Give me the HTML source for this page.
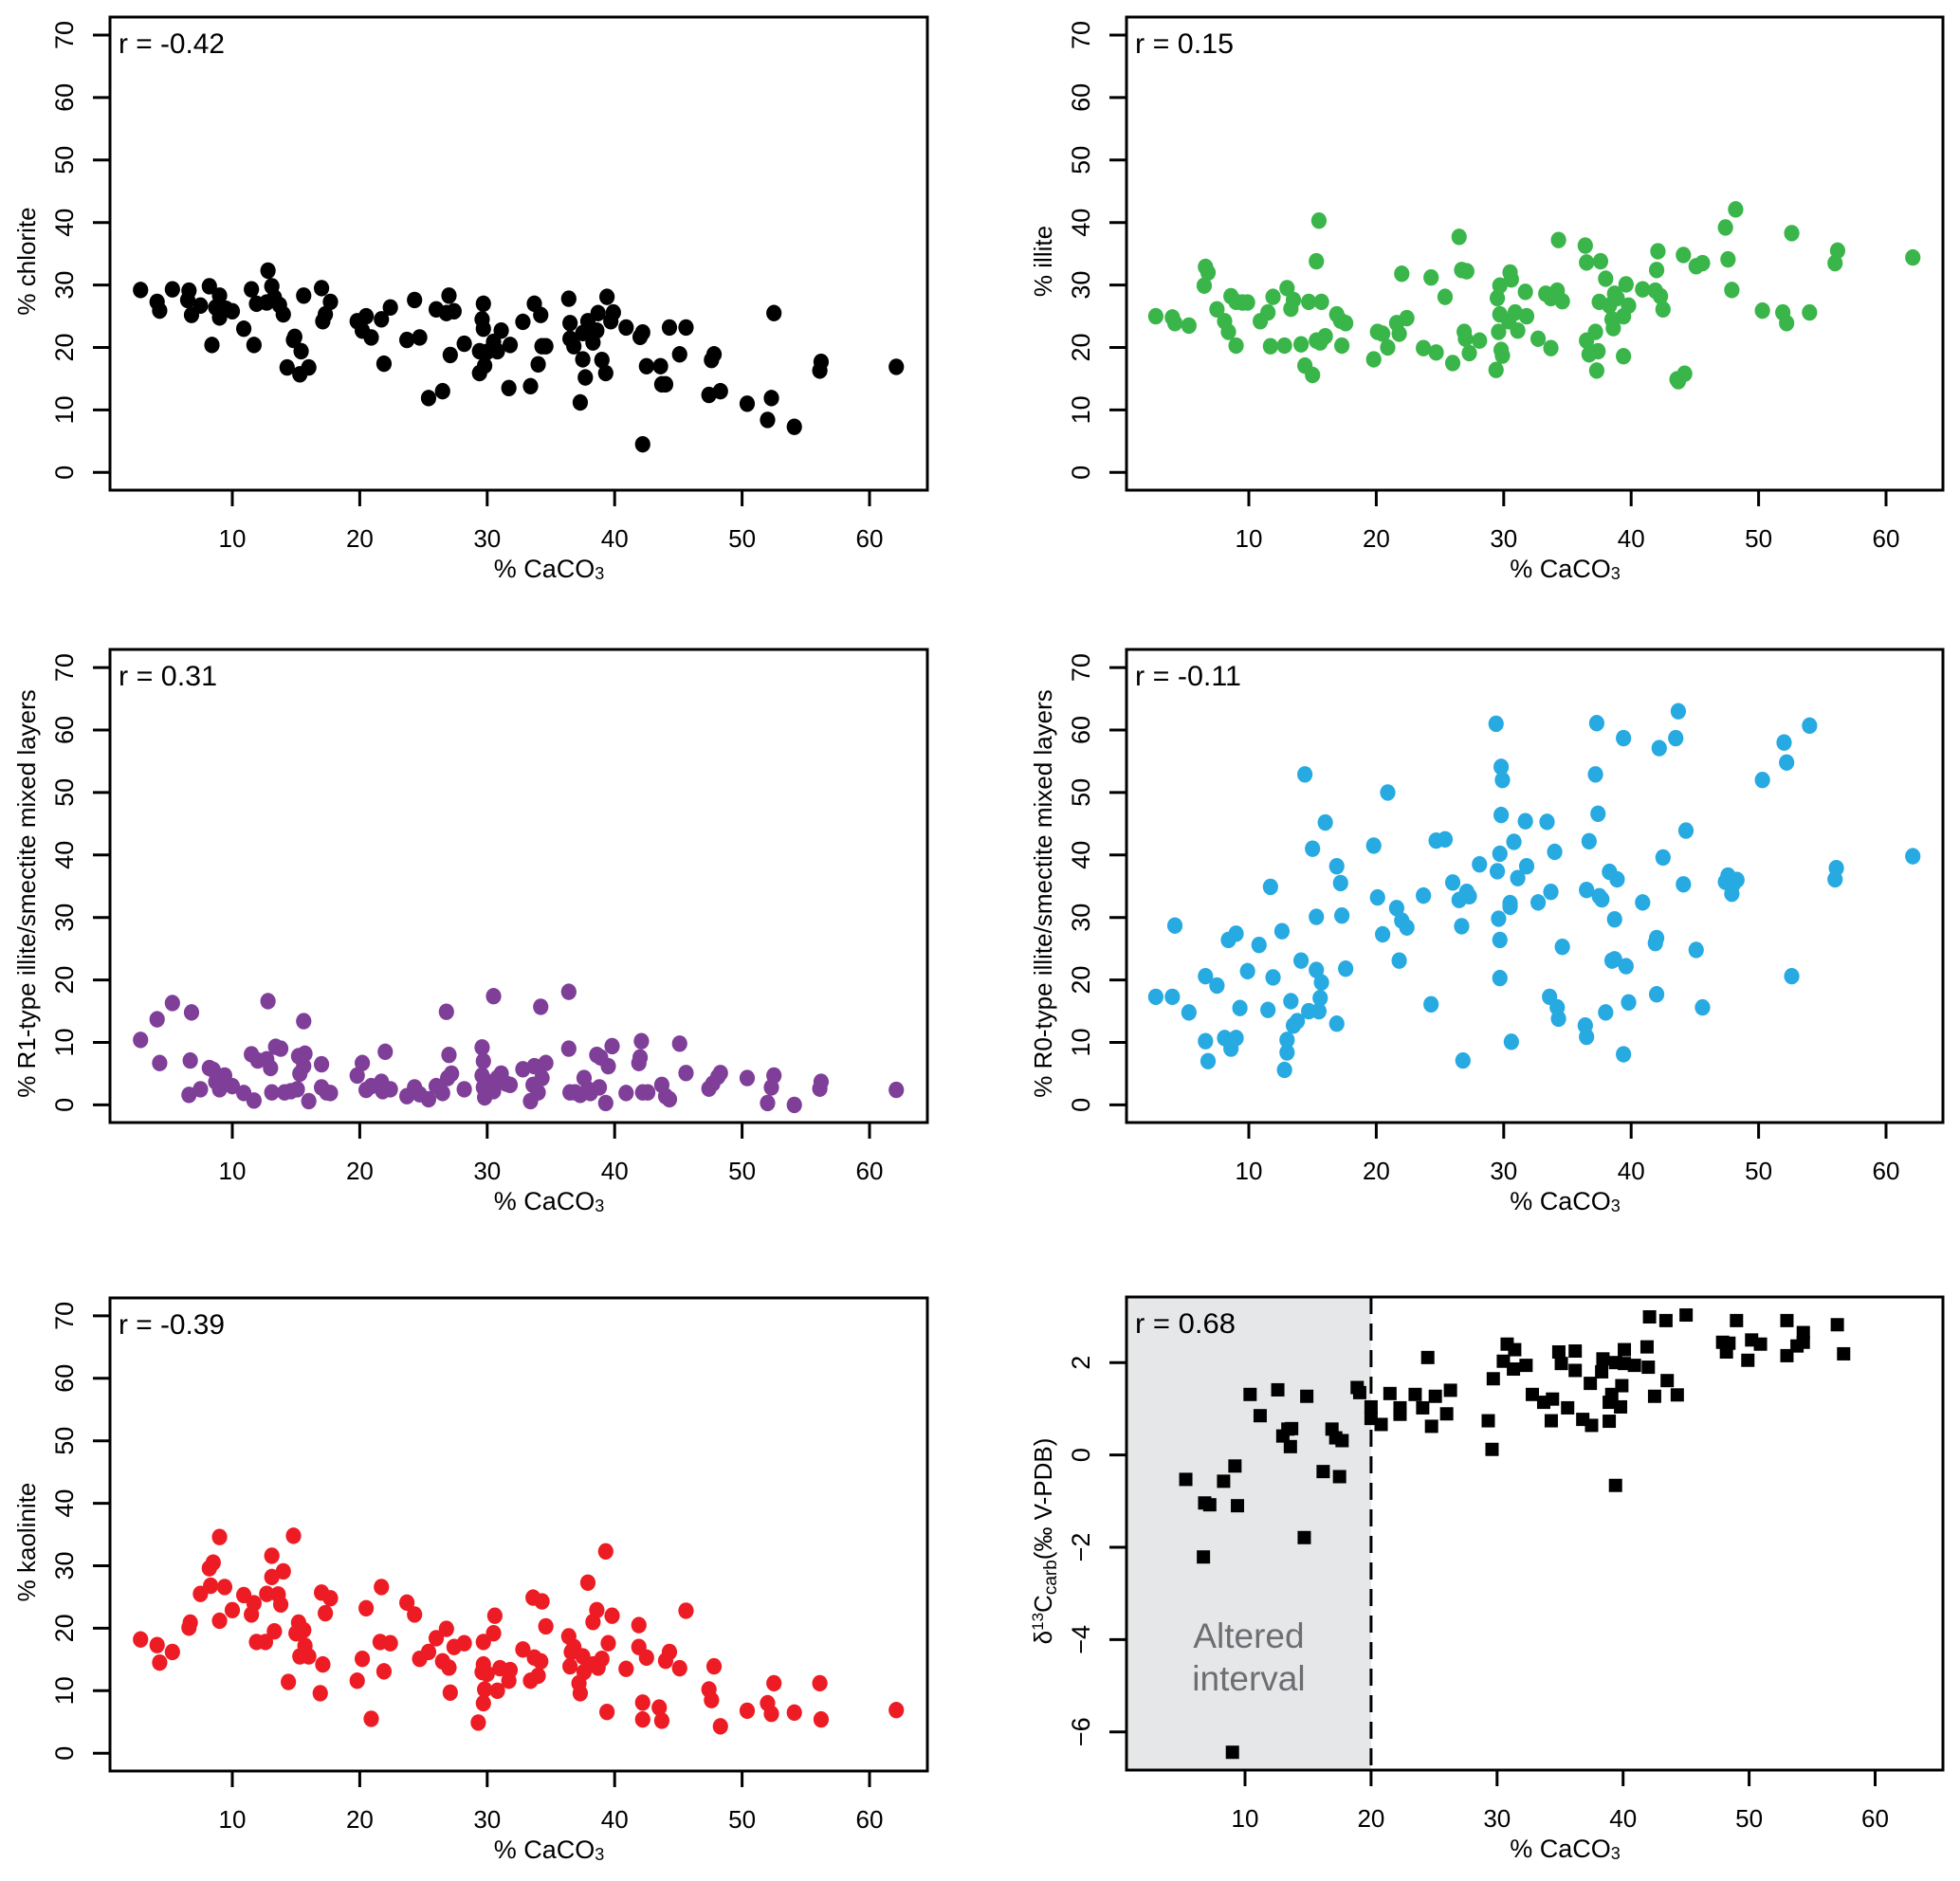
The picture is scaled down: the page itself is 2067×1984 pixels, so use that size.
<!DOCTYPE html>
<html><head><meta charset="utf-8"><style>
html,body{margin:0;padding:0;background:#fff;}
svg text{font-family:"Liberation Sans",sans-serif;}
</style></head><body>
<svg id="chart" xmlns="http://www.w3.org/2000/svg" width="2067" height="1979" viewBox="0 0 2067 1979"></svg>
<script>
// ---- data (x = % CaCO3) ----
const chlX=[2.8,4.1,4.3,5.3,6.6,6.5,6.8,7.5,8.2,8.4,8.7,9,9,9.5,10,10.9,11.5,11.7,11.9,12.8,13.1,12.7,13.3,13.7,14,14.3,14.8,14.9,15.3,15.4,15.6,16,17,17.1,17.3,17.7,19.8,20.2,20.5,20.9,21.7,21.9,22.4,23.7,24.3,24.7,25.4,26,26.5,26.8,27,27.1,27.4,28.2,29.4,29.7,29.6,29.7,29.4,29.8,30,30.5,30.8,31.1,31.8,31.7,32.8,33.4,33.7,34,34.2,34.3,34.6,36.4,36.5,36.5,36.8,37.3,37.5,37.5,37.7,37.9,38.3,38.6,38.7,39,39.3,39.4,39.7,39.9,40.9,42,42.2,42.2,42.5,43.6,43.7,44,44.3,45.1,45.6,47.4,47.6,47.8,48.3,50.4,52,52.3,52.5,54.1,56.1,56.2,62.1];
const chlY=[29.2,27.3,25.9,29.3,29.1,27.6,25.2,26.7,29.8,20.4,26.4,28.3,24.8,26.2,25.8,23,29.3,20.4,27,32.3,29.8,27.2,28,26.8,25.3,16.8,21.2,21.7,15.7,19.4,28.3,16.8,29.5,24.2,25.3,27.3,24.2,22.7,25,21.6,24.5,17.4,26.4,21.2,27.6,21.6,11.9,26.1,13,25.5,28.3,18.8,25.8,20.6,19.4,27,24.5,23,15.9,17.1,19.3,20.9,19.4,22.7,20.4,13.5,24.1,13.8,27,17.3,25.2,20.2,20.2,27.8,23.9,21.4,20.2,11.2,22.3,18.1,15.2,24.2,20.8,22.7,25.5,18,15.9,28.1,24.2,25.6,23.2,21.7,22.4,4.5,17,17,14.1,14.1,23.2,18.9,23.2,12.4,18,18.9,13,11,8.4,11.9,25.5,7.3,16.3,17.7,16.9];
const illX=[2.7,4.0,4.2,5.3,6.6,6.8,6.5,7.5,8.1,8.4,8.6,9,9,9.5,9.9,10.9,11.5,11.7,11.9,12.8,13,13.3,13.5,14.1,14.4,14.7,15,15.3,15.5,15.3,15.6,15.7,16,16.9,17.2,17.3,17.6,19.8,20.1,20.5,20.9,21.6,21.8,22,22.4,23.7,24.3,24.7,25.4,26,26.5,26.7,26.9,27,27.1,27.3,28.1,29.4,29.5,29.7,29.6,29.7,29.8,29.9,30.5,30.6,30.4,30.9,31.1,31.7,31.8,32.7,33.3,33.7,33.7,34.2,34.3,34.6,36.4,36.5,36.5,36.7,37.2,37.3,37.4,37.5,37.6,38,38.3,38.5,38.6,38.7,38.9,39.4,39.4,39.6,39.8,40.9,41.9,42,42.1,42.3,42.5,43.6,43.7,44.2,44.1,45.1,45.6,47.4,47.6,47.9,48.2,50.3,51.9,52.2,52.6,54,56,56.2,62.1];
const illY=[25,24.8,23.9,23.5,32.9,32,29.9,26.1,24.2,22.5,28.2,27.3,20.3,27.2,27.2,24.2,25.6,20.2,28.1,20.3,29.5,26.2,27.6,20.5,17.1,27.3,15.6,33.8,40.3,21.1,20.8,27.3,21.8,25.3,24.3,20.3,23.9,18.1,22.5,22.2,20,23.9,22.2,31.8,24.7,19.9,31.2,19.2,28.1,17.5,37.7,32.4,22.5,21.4,32.2,19.1,21.1,16.4,27.9,29.9,22.5,25.3,19.6,18.7,32,30.9,24.2,25.6,22.7,28.9,25,21.4,28.6,19.9,27.9,29.1,37.2,27.4,36.3,33.6,21.1,18.9,22.5,16.3,19.4,27.3,33.8,31,26.7,24.5,23.1,28.6,27.9,18.6,25,30.1,26.7,29.3,29.1,32.4,35.4,28.2,26.1,14.9,14.6,15.8,34.8,33,33.5,39.2,34.1,29.2,42.1,25.9,25.6,23.9,38.3,25.6,33.5,35.5,34.4];
const r1X=[2.8,4.1,4.3,5.3,6.6,6.8,6.7,7.5,8.2,8.5,8.7,9,9.4,9.5,10,10.9,11.5,11.7,12,12.8,13,12.7,13.1,13.4,13.8,14.1,14.6,15.1,15.2,15.3,15.6,15.6,15.7,16,17,17,17.4,17.7,19.8,20.2,20.5,20.9,21.7,21.8,22,22.4,23.7,24.3,24.7,25.4,26,26.5,26.8,26.9,27,27.2,28.2,29.6,29.7,29.6,29.7,29.8,30,30.3,30.5,30.5,30.8,31.1,31.5,31.8,32.8,33.4,33.6,33.7,34,34.2,34.3,34.6,36.4,36.4,36.5,36.9,37.3,37.6,37.9,38.1,38.6,38.8,38.9,39.3,39.5,39.8,40.9,41.9,42,42.1,42.2,42.6,43.7,44,44.3,45.1,45.6,47.4,47.7,48.1,48.3,50.4,52,52.3,52.5,54.1,56.1,56.2,62.1];
const r1Y=[10.4,13.7,6.7,16.3,1.6,14.8,7.1,2.5,5.9,5.6,3.7,2.5,4.7,3.4,3,1.9,8.1,0.7,7.1,16.6,5.9,7.3,2,9.3,9,2,2.2,2.5,7.8,5,13.4,6.2,8.2,0.6,6.5,2.8,2,1.9,4.7,6.7,2.4,3,3.7,2.2,8.5,2.5,1.4,2.8,1.7,0.9,3,1.9,14.9,4.3,8,5,2.5,9.2,7,4.7,2.8,1.2,3.7,2.5,17.4,2.2,4.3,5,3.4,3.2,5.7,0.6,3.2,6.2,2,15.7,4.3,6.7,18.1,9,2,2,1.6,4.3,2.5,1.9,8,2.8,7.6,0.3,6.2,9.4,1.9,6.7,7.6,10.2,2,2,3.2,1.4,0.9,9.8,5.1,2.6,3.4,4.5,5.1,4.3,0.3,2.8,4.7,0,2.6,3.7,2.4];
const r0X=[2.7,4,4.2,5.3,6.6,6.6,6.8,7.5,8.1,8.4,8.6,9,9,9.3,9.9,10.8,11.5,11.7,11.9,12.6,12.8,13,13,13.3,13.5,13.8,14.1,14.4,14.7,15,15.3,15.3,15.5,15.6,15.7,16,16.9,16.9,17.2,17.3,17.6,19.8,20.1,20.5,20.9,21.6,21.8,22,22.4,23.7,24.3,24.7,25.4,26,26.5,26.7,26.8,27.1,27.3,28.1,29.4,29.5,29.6,29.7,29.7,29.7,29.8,29.8,29.9,30.5,30.5,30.6,30.8,31.1,31.7,31.8,32.7,33.4,33.6,33.7,34,34.2,34.3,34.6,36.4,36.5,36.5,36.7,37.2,37.3,37.4,37.5,37.7,38,38.3,38.5,38.7,38.7,38.9,39.4,39.4,39.6,39.8,40.9,41.9,42,42,42.2,42.5,43.5,43.7,44.1,44.3,45.1,45.6,47.4,47.6,47.9,48,48.3,50.3,52,52.2,52.6,54,56,56.1,62.1];
const r0Y=[17.3,17.3,28.7,14.8,20.6,10.2,7,19.1,10.7,26.4,9,27.4,10.7,15.5,21.4,25.6,15.2,34.9,20.4,27.8,5.6,10.4,8.4,16.6,12.7,13.4,23.1,52.9,15,41,30.1,21.6,15,17.1,19.6,45.2,13,38.2,35.5,30.3,21.8,41.5,33.2,27.3,50,31.5,23.1,29.5,28.4,33.5,16.1,42.3,42.5,35.6,32.8,28.6,7.1,34.1,33.4,38.5,61,37.4,29.8,26.4,40.2,20.3,54.1,46.4,52,32.3,31.7,10.1,42.1,36.3,45.4,38.2,32.4,45.3,17.3,34.1,40.5,15.6,13.8,25.3,12.7,10.9,34.4,42.2,52.9,61.1,46.6,33.4,32.9,14.8,37.3,23.1,23.3,29.7,36.1,8.1,58.7,22.2,16.4,32.4,25.9,26.7,17.7,57.1,39.6,58.7,63,35.3,43.9,24.8,15.6,35.7,36.7,33.8,35.3,36,52,58,54.8,20.6,60.7,36.1,37.9,39.8];
const kaoX=[2.8,4.1,4.3,5.3,6.6,6.7,7.5,8.2,8.5,8.3,9,9,9.4,10,10.9,11.5,11.7,11.9,12.6,12.7,13.1,13.1,13.3,13.6,13.8,14,14.4,14.8,15,15.2,15.3,15.6,15.7,16,16.9,17,17.1,17.3,17.7,19.8,20.2,20.5,20.9,21.6,21.7,21.9,22.4,23.7,24.3,24.7,25.4,26,26.5,26.8,27,27.1,27.4,28.2,29.3,29.6,29.7,29.7,29.7,29.8,30,30.5,30.6,30.8,31,31.7,31.8,32.8,33.4,33.6,33.7,34,34.2,34.3,34.6,36.4,36.5,36.6,36.8,37.2,37.3,37.5,37.6,37.9,38.3,38.3,38.6,38.7,39,39.3,39.4,39.5,39.8,40.9,41.9,41.9,42.2,42.2,42.5,43.5,43.7,44,44.3,45.1,45.6,47.4,47.6,47.8,48.3,50.4,52,52.3,52.5,54.1,56.1,56.2,62.1];
const kaoY=[18.2,17.3,14.5,16.2,20.1,20.9,25.5,29.6,30.5,26.8,34.6,21.2,26.6,22.9,25.3,22.2,24,17.8,17.8,25.5,31.6,28.2,19.5,25.4,23.8,29.1,11.4,34.8,19.2,20.9,15.5,19.7,17.2,15.5,9.6,25.7,14.2,22.4,24.8,11.6,15.1,23.2,5.5,17.8,26.6,13.1,17.6,24.1,22.2,15.1,16.2,18.4,14.7,19.9,13.7,9.7,17,17.6,4.9,13,17.8,14.2,8,10.2,12.7,19.2,22,10,13.6,11.6,13.3,16.6,11.6,24.9,15.3,12.4,14.7,24.3,20.3,18.7,13.9,16.2,17,11.2,9.6,15.5,13,27.3,14.2,21,22.9,13.7,15.1,32.3,6.6,17.6,22,13.5,20.5,17,8.1,5.4,15.3,7.3,5.2,14.8,16.2,13.6,22.8,10.2,8.5,13.9,4.3,6.8,8,6.3,11.2,6.5,11.2,5.4,6.9];
const d13X=[5.3,6.8,7.2,6.7,8.3,9,9.2,9.4,10.4,11.2,12.6,13,13.4,13.6,13.7,14.7,14.9,16.2,16.9,17.2,17.5,17.7,18.9,19.1,20,20,20.8,21.5,22.3,22.3,23.5,24.1,24.5,24.8,25.1,26,26.3,29.3,29.6,29.7,30.5,30.8,31.4,31.3,32.3,32.8,33.7,34.4,34.3,34.9,35.1,35.6,36.2,36.2,36.8,37.5,37.4,38.3,38.4,38.9,38.9,39.1,39.4,39.4,39.8,39.9,40.1,40.1,40.9,41.9,42,42.1,42.5,43.4,43.5,44.3,45,47.9,48.2,48.4,49,49.9,50.2,50.9,53,53,53.8,54.3,54.3,57,57.5];
const d13Y=[-0.53,-1.04,-1.08,-2.21,-0.57,-6.44,-0.24,-1.1,1.31,0.85,1.41,0.41,0.56,0.18,0.57,-1.79,1.27,-0.36,0.56,0.37,-0.47,0.31,1.46,1.35,1.04,0.79,0.66,1.33,1.02,0.88,1.31,1.02,2.11,0.62,1.27,0.89,1.4,0.74,0.12,1.65,2.03,2.4,2.28,1.86,1.94,1.31,1.14,1.21,0.74,2.23,1.98,1.02,1.83,2.25,0.77,0.64,1.55,1.8,2.08,1.14,0.73,1.31,2,-0.66,1.04,1.5,2.28,1.98,1.94,2.34,1.9,2.99,1.27,2.91,1.61,1.3,3.03,2.44,2.23,2.42,2.91,2.05,2.49,2.4,2.91,2.15,2.36,2.65,2.44,2.82,2.19];
const xTicks=[10,20,30,40,50,60];
const pctTicks=[0,10,20,30,40,50,60,70];
const d13Ticks=[2,0,-2,-4,-6];

const NS='http://www.w3.org/2000/svg';
const svg=document.getElementById('chart');
function mk(tag,attrs,parent){const e=document.createElementNS(NS,tag);for(const k in attrs)e.setAttribute(k,attrs[k]);(parent||svg).appendChild(e);return e;}

function panel(o){
  const g=mk('g',{});
  
  
  const sx=v=>o.x10+(v-10)*o.kx;
  const sy=v=>o.y0-(v-o.yref)*o.ky;
  if(o.shade){
    const sh=mk('rect',{x:o.L,y:o.T,width:sx(20)-o.L,height:o.B-o.T,fill:'#e6e7e8'},g);
    
    
    const dl=mk('line',{x1:sx(20),x2:sx(20),y1:o.T,y2:o.B,stroke:'#000','stroke-width':3,'stroke-dasharray':'18,10'},g);
    
    
    const t1=mk('text',{x:(o.L+sx(20))/2,y:o.T+370,'font-size':37,fill:'#6d6e71','text-anchor':'middle'},g);t1.textContent='Altered';
    
    
    const t2=mk('text',{x:(o.L+sx(20))/2,y:o.T+415,'font-size':37,fill:'#6d6e71','text-anchor':'middle'},g);t2.textContent='interval';
    
    
  }
  for(let i=0;i<o.xs.length;i++){
    let m;
    if(o.square){m=mk('rect',{x:sx(o.xs[i])-7,y:sy(o.ys[i])-7,width:14,height:14,fill:o.color},g);}
    else{m=mk('ellipse',{cx:sx(o.xs[i]),cy:sy(o.ys[i]),rx:8.1,ry:8.7,fill:o.color},g);}
    
    
  }
  const box=mk('rect',{x:o.L,y:o.T,width:o.R-o.L,height:o.B-o.T,fill:'none',stroke:'#000','stroke-width':3},g);
  
  
  xTicks.forEach(v=>{
    const t=mk('line',{x1:sx(v),x2:sx(v),y1:o.B,y2:o.B+17,stroke:'#000','stroke-width':3},g);
    
    
    const l=mk('text',{x:sx(v),y:o.B+60,'font-size':26,'text-anchor':'middle'},g);l.textContent=v;
    
    
  });
  o.yt.forEach(v=>{
    const t=mk('line',{x1:o.L-18,x2:o.L,y1:sy(v),y2:sy(v),stroke:'#000','stroke-width':3},g);
    
    
    const l=mk('text',{x:0,y:0,'font-size':27,'text-anchor':'middle',transform:`translate(${o.L-39},${sy(v)}) rotate(-90)`},g);
    l.textContent=(v<0?'\u2212'+(-v):String(v));
    
    
  });
  const xt=mk('text',{x:(o.L+o.R)/2+32,y:o.B+92,'font-size':27,'text-anchor':'middle'},g);
  xt.innerHTML='% CaCO<tspan font-size="18" dy="2">3</tspan>';
  
  
  const yt=mk('text',{x:0,y:0,'font-size':26,'text-anchor':'middle',transform:`translate(${o.L-79},${(o.T+o.B)/2+8}) rotate(-90)`},g);
  yt.innerHTML=o.ylab;
  
  
  const rt=mk('text',{x:o.L+9,y:o.T+38,'font-size':30,textLength:o.rw,lengthAdjust:'spacingAndGlyphs'},g);
  rt.textContent=o.r;
  
  
}
const c1={L:116,R:978,x10:245,kx:13.44};
const c2={L:1188,R:2049,x10:1317,kx:13.44};
const rows=[{T:18,B:517,y0:498.3},{T:685,B:1184,y0:1165.4},{T:1369,B:1868,y0:1849.2}];
const ky=6.59;
panel({name:'chlorite',...c1,...rows[0],yref:0,ky,xs:chlX,ys:chlY,color:'#000',yt:pctTicks,ylab:'% chlorite',r:'r = -0.42',rw:112});
panel({name:'illite',...c2,...rows[0],yref:0,ky,xs:illX,ys:illY,color:'#39b54a',yt:pctTicks,ylab:'% illite',r:'r = 0.15',rw:104});
panel({name:'r1-mixed-layers',...c1,...rows[1],yref:0,ky,xs:r1X,ys:r1Y,color:'#7f3f98',yt:pctTicks,ylab:'% R1-type illite/smectite mixed layers',r:'r = 0.31',rw:104});
panel({name:'r0-mixed-layers',...c2,...rows[1],yref:0,ky,xs:r0X,ys:r0Y,color:'#27aae1',yt:pctTicks,ylab:'% R0-type illite/smectite mixed layers',r:'r = -0.11',rw:112});
panel({name:'kaolinite',...c1,...rows[2],yref:0,ky,xs:kaoX,ys:kaoY,color:'#ed1c24',yt:pctTicks,ylab:'% kaolinite',r:'r = -0.39',rw:112});
panel({name:'delta13c',L:1188,R:2049,x10:1313,kx:13.29,T:1368,B:1867,y0:1437.2,yref:2,ky:48.7,xs:d13X,ys:d13Y,color:'#000',square:true,shade:true,yt:d13Ticks,
  ylab:'δ<tspan font-size="17" dy="-9">13</tspan><tspan dy="9">C</tspan><tspan font-size="19" dy="5">carb</tspan><tspan dy="-5">(‰ V-PDB)</tspan>',r:'r = 0.68',rw:106});
</script>
</body></html>
